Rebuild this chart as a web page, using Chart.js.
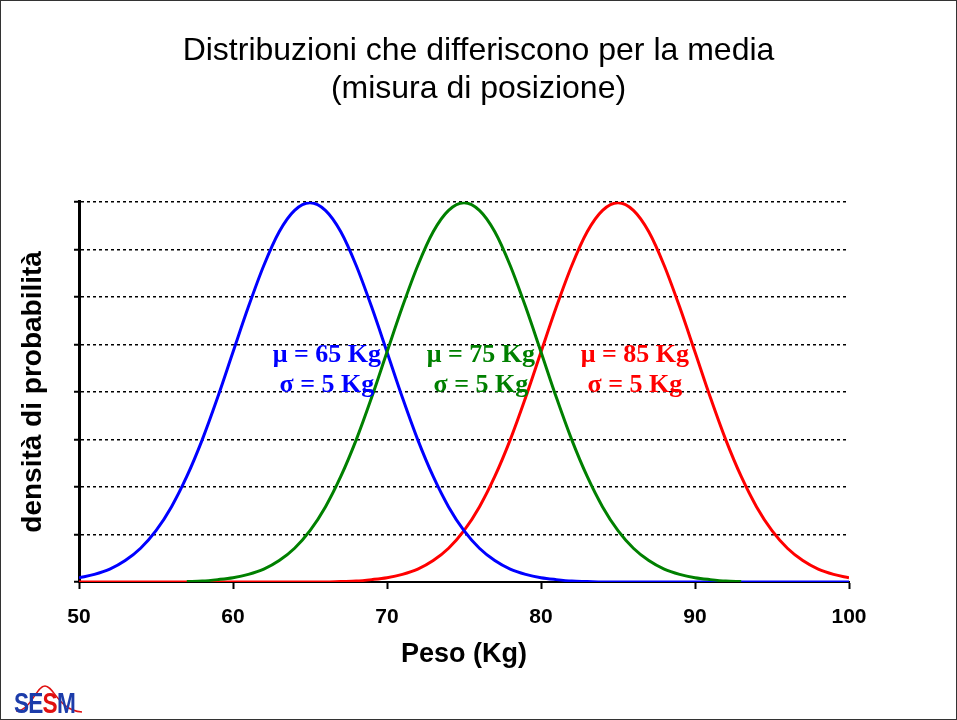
<!DOCTYPE html>
<html>
<head>
<meta charset="utf-8">
<script src="https://cdn.jsdelivr.net/npm/chart.js@4.4.1/dist/chart.umd.min.js"></script>
<style>
  html, body { margin: 0; padding: 0; background: #fff; }
  #wrap { position: relative; width: 957px; height: 720px; }
  #frame { position: absolute; left: 0; top: 0; width: 957px; height: 720px; box-sizing: border-box; border: 1px solid #333; pointer-events: none; }
  #logo { position: absolute; left: 12px; top: 683px; width: 80px; height: 34px; }
  #logo svg { position: absolute; left: 0; top: 0; }
  #logo .txt { position: absolute; left: 2px; top: 6px; font: bold 29px 'Liberation Sans', Arial, sans-serif; letter-spacing: -1px; transform: scaleX(0.78); transform-origin: left top; color: #1c3caa; line-height: 28px; }
  #logo .txt .r { color: #e01010; }
</style>
</head>
<body>
<div id="wrap">
  <canvas id="chart" width="957" height="720"></canvas>
  <div id="logo">
    <svg width="80" height="34"><path d="M4 28 C 20 27, 24 3, 33 3 S 46 27, 70 29" stroke="#e01010" stroke-width="1.5" fill="none"/></svg>
    <div class="txt">SE<span class="r">S</span>M</div>
  </div>
  <div id="frame"></div>
</div>
<script>
// Pesi (asse x) e densità
const weights = [50, 51, 52, 53, 54, 55, 56, 57, 58, 59, 60, 61, 62, 63, 64, 65, 66, 67, 68, 69, 70,
  71, 72, 73, 74, 75, 76, 77, 78, 79, 80, 81, 82, 83, 84, 85, 86, 87, 88, 89, 90,
  91, 92, 93, 94, 95, 96, 97, 98, 99, 100];

// media 65
const density65 = [0.0009, 0.0016, 0.0027, 0.0045, 0.0071, 0.0108, 0.0158, 0.0222, 0.0299, 0.0388,
  0.0484, 0.0579, 0.0666, 0.0737, 0.0782, 0.0798, 0.0782, 0.0737, 0.0666, 0.0579,
  0.0484, 0.0388, 0.0299, 0.0222, 0.0158, 0.0108, 0.0071, 0.0045, 0.0027, 0.0016,
  0.0009, 0.0005, 0.0002, 0.0001, 0, 0, 0, 0, 0, 0,
  0, 0, 0, 0, 0, 0, 0, 0, 0, 0, 0];

// media 75 (curva visibile solo fra 57 e 93)
const density75 = [null, null, null, null, null, null, null, 0.0001, 0.0002, 0.0005,
  0.0009, 0.0016, 0.0027, 0.0045, 0.0071, 0.0108, 0.0158, 0.0222, 0.0299, 0.0388,
  0.0484, 0.0579, 0.0666, 0.0737, 0.0782, 0.0798, 0.0782, 0.0737, 0.0666, 0.0579,
  0.0484, 0.0388, 0.0299, 0.0222, 0.0158, 0.0108, 0.0071, 0.0045, 0.0027, 0.0016,
  0.0009, 0.0005, 0.0002, 0.0001, null, null, null, null, null, null, null];

// media 85
const density85 = [0, 0, 0, 0, 0, 0, 0, 0, 0, 0,
  0, 0, 0, 0, 0, 0, 0, 0.0001, 0.0002, 0.0005,
  0.0009, 0.0016, 0.0027, 0.0045, 0.0071, 0.0108, 0.0158, 0.0222, 0.0299, 0.0388,
  0.0484, 0.0579, 0.0666, 0.0737, 0.0782, 0.0798, 0.0782, 0.0737, 0.0666, 0.0579,
  0.0484, 0.0388, 0.0299, 0.0222, 0.0158, 0.0108, 0.0071, 0.0045, 0.0027, 0.0016, 0.0009];

const means = [65, 75, 85];
const sigmas = [5, 5, 5];
const curveColors = ['#0000ff', '#008000', '#ff0000'];
const xTicks = [50, 60, 70, 80, 90, 100];

const toPoints = (vals) => weights.map((w, i) => ({ x: w, y: vals[i] }));

const fontSans = "'Liberation Sans', Arial, sans-serif";

// Etichette μ / σ accanto alle curve
const curveLabels = {
  id: 'curveLabels',
  afterDatasetsDraw(chart) {
    const { ctx, scales: { x, y } } = chart;
    ctx.save();
    ctx.font = "bold 26px 'Liberation Serif', 'Times New Roman', serif";
    ctx.textAlign = 'center';
    ctx.textBaseline = 'middle';
    means.forEach((m, i) => {
      ctx.fillStyle = curveColors[i];
      const cx = x.getPixelForValue(m + 1.1);
      ctx.fillText('\u03bc = ' + m + ' Kg', cx, y.getPixelForValue(0.0478));
      ctx.fillText('\u03c3 = ' + sigmas[i] + ' Kg', cx, y.getPixelForValue(0.0413));
    });
    ctx.restore();
  }
};

new Chart(document.getElementById('chart'), {
  type: 'line',
  data: {
    datasets: [
      { label: 'media 75', data: toPoints(density75), borderColor: curveColors[1] },
      { label: 'media 65', data: toPoints(density65), borderColor: curveColors[0] },
      { label: 'media 85', data: toPoints(density85), borderColor: curveColors[2] }
    ]
  },
  options: {
    responsive: false,
    animation: false,
    layout: { padding: 0 },
    elements: {
      point: { radius: 0 },
      line: { borderWidth: 3, cubicInterpolationMode: 'monotone', fill: false }
    },
    spanGaps: false,
    plugins: {
      legend: { display: false },
      tooltip: { enabled: false },
      title: {
        display: true,
        text: ['Distribuzioni che differiscono per la media', '(misura di posizione)'],
        color: '#000',
        font: { family: fontSans, size: 32, weight: 'normal', lineHeight: 1.2 },
        padding: { top: 32, bottom: 93 }
      }
    },
    scales: {
      x: {
        type: 'linear',
        min: 50,
        max: 100,
        afterBuildTicks: (s) => { s.ticks = xTicks.map(v => ({ value: v })); },
        afterFit: (s) => { s.height = 138; },
        ticks: { color: '#000', font: { family: fontSans, size: 21, weight: 'bold' }, padding: 16 },
        grid: { drawOnChartArea: false, drawTicks: true, tickLength: 7, tickWidth: 2, tickColor: '#000' },
        border: { display: true, color: '#000', width: 2 },
        title: {
          display: true,
          text: 'Peso (Kg)',
          color: '#000',
          font: { family: fontSans, size: 27, weight: 'bold' },
          padding: { top: 0, bottom: 49 }
        }
      },
      y: {
        min: 0,
        max: 0.08,
        ticks: { display: false, stepSize: 0.01 },
        afterFit: (s) => { s.width = 79; },
        grid: { color: '#000', lineWidth: 1.5, drawTicks: true, tickLength: 5, tickColor: '#000', tickWidth: 2, tickBorderDash: [] },
        border: { display: true, color: '#000', width: 3, dash: [3, 3] },
        title: {
          display: true,
          text: 'densità di probabilità',
          color: '#000',
          font: { family: fontSans, size: 28, weight: 'bold' },
          padding: { top: 16, bottom: 0 }
        }
      },
      // asse vuoto a destra: riserva il margine così il titolo resta centrato sulla pagina
      yRight: {
        position: 'right',
        min: 0,
        max: 0.08,
        afterFit: (s) => { s.width = 108; },
        ticks: { display: false },
        grid: { display: false },
        border: { display: false }
      }
    }
  },
  plugins: [curveLabels]
});
</script>
</body>
</html>
